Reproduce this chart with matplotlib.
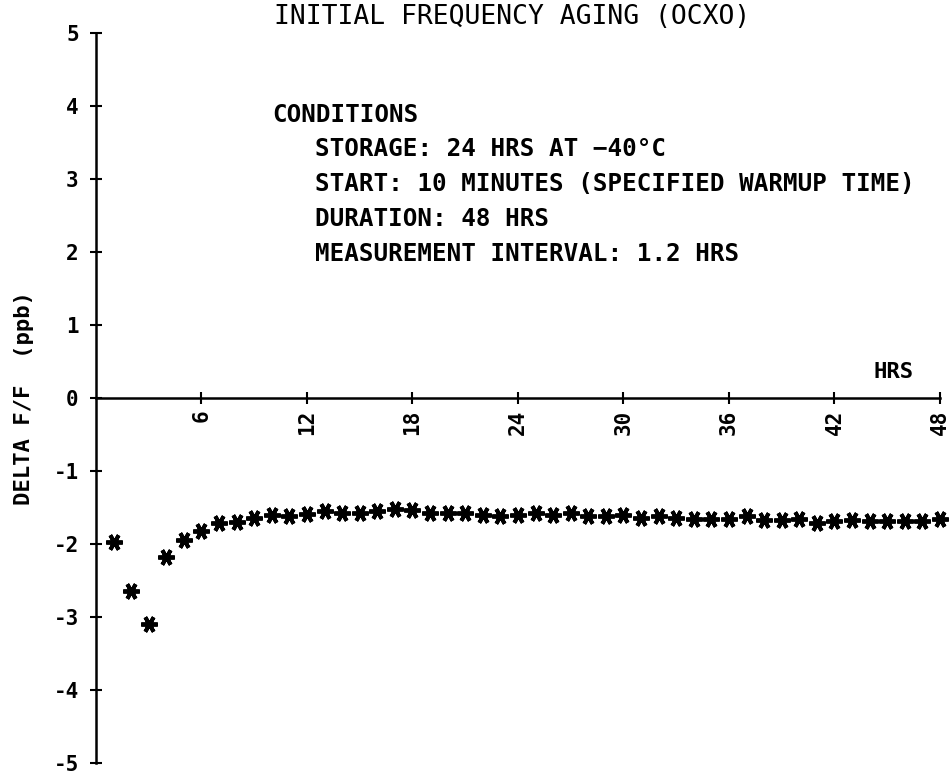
import numpy as np
import matplotlib.pyplot as plt

# aging data, one reading per hour
hours = list(range(1, 49))
delta_ff = [-1.97, -2.64, -3.10, -2.18, -1.94, -1.82, -1.71, -1.70, -1.64, -1.60,
            -1.61, -1.59, -1.55, -1.57, -1.57, -1.55, -1.52, -1.54, -1.58, -1.58,
            -1.58, -1.60, -1.61, -1.60, -1.58, -1.60, -1.58, -1.61, -1.61, -1.60,
            -1.64, -1.61, -1.64, -1.66, -1.66, -1.66, -1.61, -1.67, -1.67, -1.66,
            -1.71, -1.68, -1.67, -1.68, -1.69, -1.68, -1.69, -1.66]

x_ticks = [6, 12, 18, 24, 30, 36, 42, 48]
y_ticks = [-5, -4, -3, -2, -1, 0, 1, 2, 3, 4, 5]

conditions = ["STORAGE: 24 HRS AT \u221240\u00b0C",
              "START: 10 MINUTES (SPECIFIED WARMUP TIME)",
              "DURATION: 48 HRS",
              "MEASUREMENT INTERVAL: 1.2 HRS"]

plt.rcParams['font.family'] = ['DejaVu Sans Mono']

W, H = 952, 775
fig = plt.figure(figsize=(W / 100, H / 100), dpi=100)
ax = fig.add_axes([96 / W, 1 - 763 / H, (940 - 96) / W, (763 - 33) / H])

ax.plot(hours, delta_ff, linestyle='none', marker=(6, 2, 90), markersize=12,
        markeredgewidth=2.8, color='black', clip_on=False)

ax.set_xlim(0, 48)
ax.set_ylim(-5, 5)

for s in ['top', 'right']:
    ax.spines[s].set_visible(False)
ax.spines['left'].set_position(('data', 0))
ax.spines['bottom'].set_position(('data', 0))
ax.spines['left'].set_linewidth(1.8)
ax.spines['bottom'].set_linewidth(1.8)

ax.set_xticks(x_ticks)
ax.set_xticklabels([str(t) for t in x_ticks], rotation=90, fontsize=15, fontweight='bold')
ax.set_yticks(y_ticks)
ax.set_yticklabels([str(t) for t in y_ticks], fontsize=15, fontweight='bold')
ax.tick_params(axis='both', direction='inout', length=9, width=1.5, color='black')
ax.tick_params(axis='x', pad=4)
ax.tick_params(axis='y', pad=8)

ax.set_ylabel("DELTA F/F  (ppb)", fontsize=16, fontweight='bold')
ax.yaxis.set_label_coords(-0.073, 0.5)

fig.text(512 / W, 1 - 17 / H, "INITIAL FREQUENCY AGING (OCXO)", ha='center', va='center',
         fontsize=19)
fig.text(272 / W, 1 - 115 / H, "CONDITIONS", ha='left', va='center', fontsize=17.5,
         fontweight='bold')
for i, line in enumerate(conditions):
    fig.text(315 / W, 1 - (149 + 35 * i) / H, line, ha='left', va='center', fontsize=17.5,
             fontweight='bold')
fig.text(894 / W, 1 - 372 / H, "HRS", ha='center', va='center', fontsize=16,
         fontweight='bold')

fig.savefig("out.png", dpi=100)
